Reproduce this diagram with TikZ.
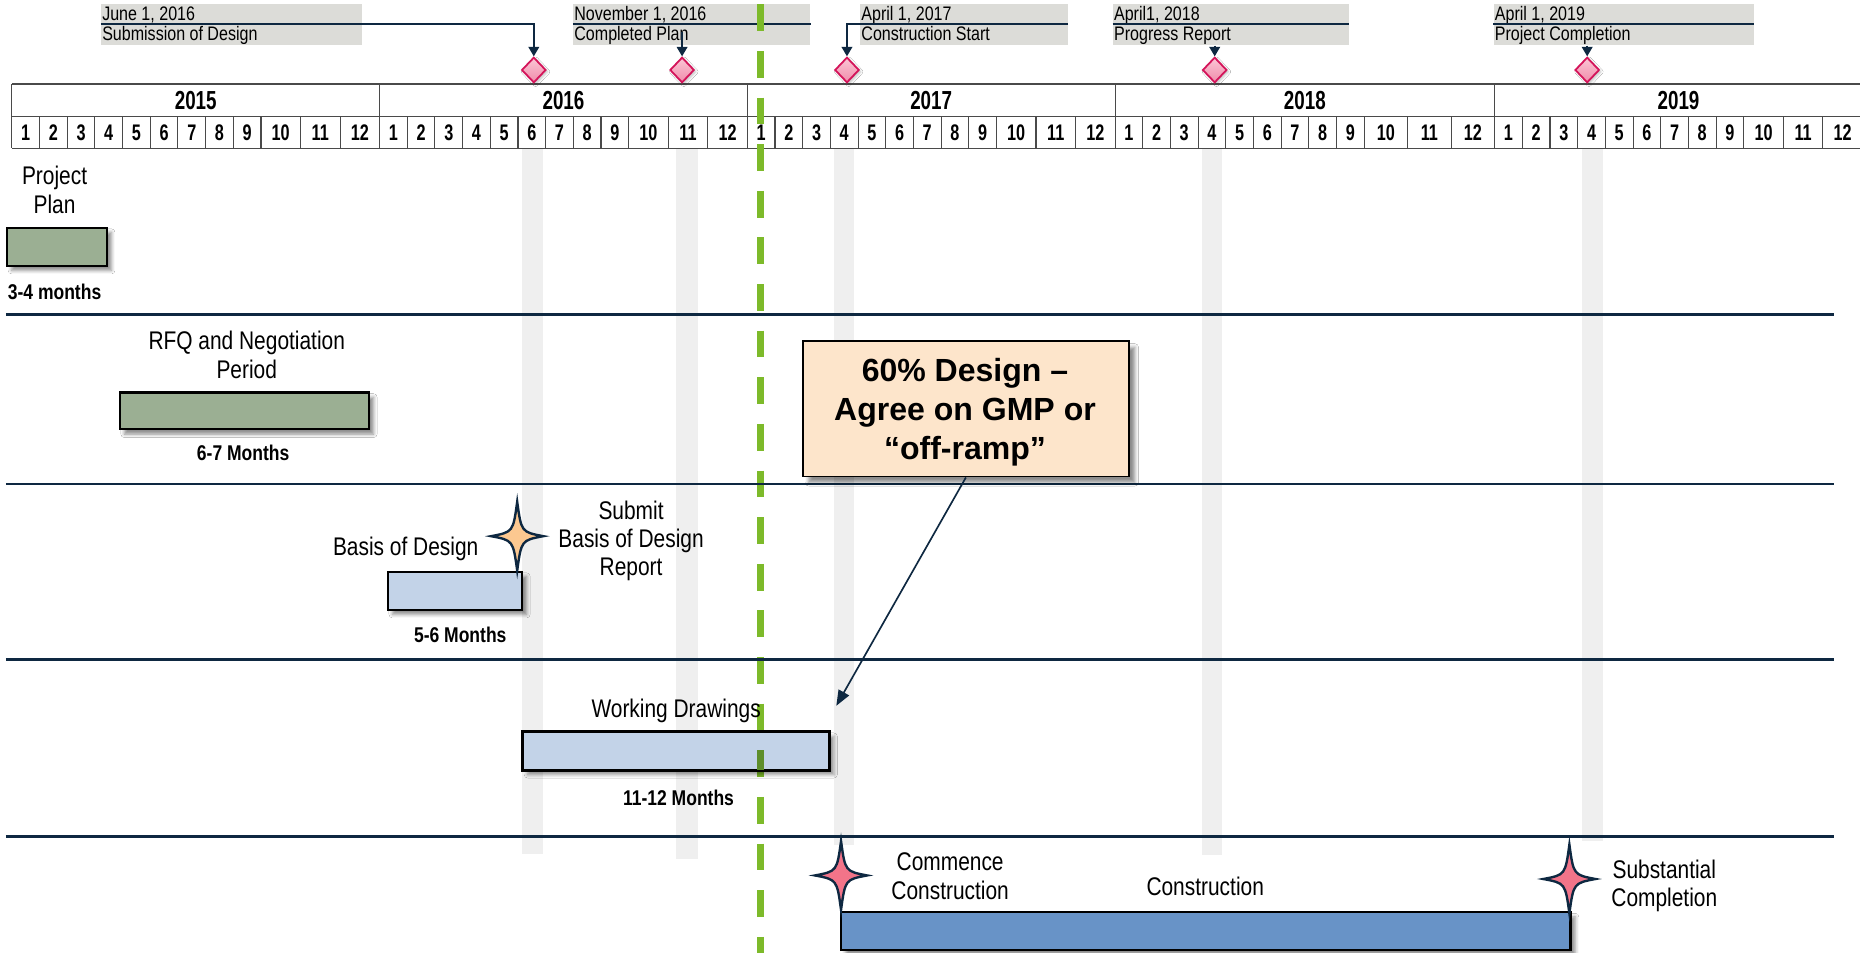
\documentclass[tikz,border=0pt]{standalone}
\usepackage{fontspec}
\setmainfont{Liberation Sans}
\newfontfamily\narrowfont[FakeStretch=0.82]{Liberation Sans}
\newfontfamily\gridfont[FakeStretch=0.72]{Liberation Sans}
\newfontfamily\tagfont[FakeStretch=0.82]{Liberation Sans}
\usetikzlibrary{arrows.meta,shapes.geometric,shadows.blur,calc}

\definecolor{navy}{HTML}{0E2841}
\definecolor{gridgray}{HTML}{4A4A4A}
\definecolor{tagbg}{HTML}{DCDCD8}
\definecolor{bandgray}{HTML}{EFEFEF}
\definecolor{plangreen}{HTML}{9BAF93}
\definecolor{designblue}{HTML}{C3D3E8}
\definecolor{buildblue}{HTML}{6893C7}
\definecolor{calloutpeach}{HTML}{FDE5CB}
\definecolor{milestonered}{HTML}{D4145A}
\definecolor{diamondtop}{HTML}{FBC6D5}
\definecolor{diamondbot}{HTML}{F08CAB}
\definecolor{starpink}{HTML}{F27489}
\definecolor{starorange}{HTML}{FCC890}
\definecolor{todaygreen}{HTML}{7DBA2A}
\definecolor{todaydark}{HTML}{5E8E2A}

\tikzset{
  gridline/.style={draw=gridgray, line width=0.9pt},
  gridframe/.style={draw=gridgray, line width=1.8pt},
  yearlabel/.style={font=\gridfont\bfseries\fontsize{22}{24}\selectfont, inner sep=0pt},
  monthlabel/.style={font=\gridfont\bfseries\fontsize{19}{21}\selectfont, inner sep=0pt},
  band/.style={fill=bandgray, draw=none},
  tagbox/.style={fill=tagbg, anchor=north west, inner sep=0pt, minimum height=35pt},
  tagtext/.style={font=\tagfont\fontsize{16.5}{18}\selectfont, anchor=base west, inner sep=0pt},
  tagline/.style={draw=navy, line width=1.4pt},
  tagarrow/.style={tagline, -{Triangle[length=8pt,width=9pt]}},
  milestone/.style={diamond, minimum width=20.5pt, minimum height=21.5pt, inner sep=0pt,
    draw=milestonered, line width=1.5pt, top color=diamondtop, bottom color=diamondbot,
    blur shadow={shadow xshift=1.5pt, shadow yshift=-1.5pt, shadow opacity=25, shadow blur radius=2pt}},
  lanerule/.style={draw=navy, line width=2.2pt},
  bar/.style={draw=black, line width=1.8pt, anchor=north west, inner sep=0pt,
    blur shadow={shadow xshift=4pt, shadow yshift=-4pt, shadow opacity=45, shadow blur radius=3pt}},
  lanelabel/.style={font=\narrowfont\fontsize{21.5}{24}\selectfont, align=center, inner sep=0pt},
  durlabel/.style={font=\narrowfont\bfseries\fontsize{18}{20}\selectfont, inner sep=0pt},
  todayline/.style={draw=todaygreen, line width=5.5pt, dash pattern=on 22.5pt off 16.8pt},
  calloutbox/.style={draw=black, line width=1.5pt, fill=calloutpeach, inner sep=0pt, anchor=north west,
    blur shadow={shadow xshift=5pt, shadow yshift=-5pt, shadow opacity=45, shadow blur radius=3pt}},
  callouttext/.style={font=\bfseries\fontsize{27}{32.5}\selectfont, align=center, inner sep=0pt},
  pics/fourstar/.style={code={
    \draw[draw=navy, line width=2pt, fill=#1, miter limit=12]
      (0,-29) .. controls (3.5,-3.5) .. (22,0) .. controls (3.5,3.5) .. (0,29)
      .. controls (-3.5,3.5) .. (-22,0) .. controls (-3.5,-3.5) .. cycle;}}
}

\begin{document}
\begin{tikzpicture}[x=1pt, y=-1pt]
\fill[white] (0,0) rectangle (1568,803);
\useasboundingbox (0,0) rectangle (1568,803);

% milestone bands behind the lanes
\fill[band] (440,125) rectangle (458,720);
\fill[band] (570,125) rectangle (588,724);
\fill[band] (703,125) rectangle (720,712);
\fill[band] (1013,125) rectangle (1030,721);
\fill[band] (1334,125) rectangle (1351,709);

% year / month scale
\draw[gridframe] (10,71) -- (1568,71);
\draw[gridline] (10,98) -- (1568,98);
\draw[gridline] (10,125) -- (1568,125);
\foreach \ys/\dw/\yr in {10/33.333/2015, 320/33.333/2016, 630/33.333/2017, 940/36.667/2018, 1260/33.333/2019}{
  \draw[gridline] (\ys,71) -- (\ys,125);
  \node[yearlabel] (yr\yr) at ({\ys+105+1.5*\dw},85) {\yr};
  \foreach \m in {1,...,9}{
    \node[monthlabel] (mo\yr-\m) at ({\ys+23.333*\m-11.667},112) {\m};
  }
  \foreach \m in {2,...,9}{
    \draw[gridline] ({\ys+23.333*(\m-1)},98) -- ++(0,27);
  }
  \foreach \k/\m in {0/10,1/11,2/12}{
    \node[monthlabel] (mo\yr-\m) at ({\ys+210+\dw*(\k+0.5)},112) {\m};
    \draw[gridline] ({\ys+210+\dw*\k},98) -- ++(0,27);
  }
}

% milestone tags
\node[tagbox, minimum width=220pt] (tag1) at (85,3) {};
\node[tagbox, minimum width=200pt] (tag2) at (483,3) {};
\node[tagbox, minimum width=175pt] (tag3) at (725,3) {};
\node[tagbox, minimum width=199pt] (tag4) at (938,3) {};
\node[tagbox, minimum width=219pt] (tag5) at (1259,3) {};

\node[tagtext] (tag1date) at (86,17.5) {June 1, 2016};
\node[tagtext] (tag1name) at (86,34) {Submission of Design};
\node[tagtext] (tag2date) at (484,17.5) {November 1, 2016};
\node[tagtext] (tag2name) at (484,34) {Completed Plan};
\node[tagtext] (tag3date) at (726,17.5) {April 1, 2017};
\node[tagtext] (tag3name) at (726,34) {Construction Start};
\node[tagtext] (tag4date) at (939,17.5) {April1, 2018};
\node[tagtext] (tag4name) at (939,34) {Progress Report};
\node[tagtext] (tag5date) at (1260,17.5) {April 1, 2019};
\node[tagtext] (tag5name) at (1260,34) {Project Completion};

\node[milestone] (dia1) at (450,59) {};
\node[milestone] (dia2) at (575,59) {};
\node[milestone] (dia3) at (714,59) {};
\node[milestone] (dia4) at (1024,59) {};
\node[milestone] (dia5) at (1338,59) {};

\draw[tagarrow] ($(tag1.north west)+(0,17.5)$) -| (dia1.north);
\draw[tagline] ($(tag2.north west)+(0,17.5)$) -- ($(tag2.north east)+(0,17.5)$);
\coordinate (tag2drop) at (575,27);
\draw[tagarrow] (tag2drop) -- (dia2.north);
\draw[tagarrow] ($(tag3.north east)+(0,17.5)$) -| (dia3.north);
\draw[tagline] ($(tag4.north west)+(0,17.5)$) -- ($(tag4.north east)+(0,17.5)$);
\draw[tagarrow] (dia4.north |- tag4.south) -- (dia4.north);
\draw[tagline] ($(tag5.north west)+(0,17.5)$) -- ($(tag5.north east)+(0,17.5)$);
\draw[tagarrow] (dia5.north |- tag5.south) -- (dia5.north);

% today marker
\draw[todayline] (641,3.7) -- (641,803);

% lane rules
\foreach \ly in {265,408,556,705}{
  \draw[lanerule] (5,\ly) -- (1546,\ly);
}

% task bars
\node[bar, fill=plangreen, minimum width=84pt, minimum height=32pt] (planbar) at (5,191) {};
\node[bar, fill=plangreen, minimum width=210pt, minimum height=31pt] (rfqbar) at (100,330) {};
\node[bar, fill=designblue, minimum width=113pt, minimum height=32pt] (bodbar) at (326,481) {};
\node[bar, fill=designblue, minimum width=258pt, minimum height=32pt] (wdbar) at (440,616) {};
\node[bar, fill=buildblue, minimum width=615pt, minimum height=32pt] (conbar) at (708,768) {};

\begin{scope}
  \clip (wdbar.north west) rectangle (wdbar.south east);
  \draw[todayline, draw=todaydark] (641,3.7) -- (641,803);
\end{scope}
\draw[draw=black, line width=1.8pt] (wdbar.north west) rectangle (wdbar.south east);

% milestone stars
\pic (bodstar) at (436,452) {fourstar=starorange};
\pic (ccstar) at (709,738) {fourstar=starpink};
\pic (scstar) at (1323,741) {fourstar=starpink};

% lane texts
\node[lanelabel] (plantext) at (46,160) {Project\\Plan};
\node[durlabel] (plandur) at (46,246) {3-4 months};
\node[lanelabel] (rfqtext) at (208,299) {RFQ and Negotiation\\Period};
\node[durlabel] (rfqdur) at (205,382) {6-7 Months};
\node[lanelabel] (bodtext) at (342,463) {Basis of Design};
\node[lanelabel] (bodreport) at (532,456) {Submit\\Basis of Design\\Report};
\node[durlabel] (boddur) at (388,535) {5-6 Months};
\node[lanelabel] (wdtext) at (570,599) {Working Drawings};
\node[durlabel] (wddur) at (572,673) {11-12 Months};
\node[lanelabel] (cctext) at (801,738.5) {Commence\\Construction};
\node[lanelabel] (context) at (1016,747) {Construction};
\node[lanelabel] (sctext) at (1403,747) {Substantial\\Completion};

% decision callout
\node[calloutbox, minimum width=275pt, minimum height=114pt] (gmp) at (676,287) {};
\node[callouttext] (gmptext) at (813.5,347.5) {60\% Design –\\Agree on GMP or\\“off-ramp”};
\coordinate (wdtarget) at (705,595);
\draw[draw=navy, line width=1.4pt, -{Triangle[length=13pt,width=10pt]}] (gmp.south) -- (wdtarget);
\end{tikzpicture}
\end{document}
